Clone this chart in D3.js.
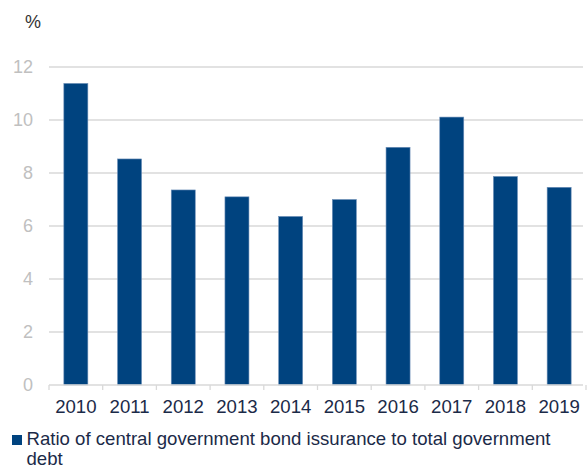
<!DOCTYPE html>
<html lang="en">
    <head>
        <meta charset="UTF-8">
        <title>Bond issuance ratio</title>
        <style>
            body { margin: 0; background: #fff; }
            svg { font-family: "Liberation Sans", Arial, sans-serif; }
            .bar { fill: #00437f; stroke: #6d8fb8; stroke-width: 0.6; }
            .grid line { stroke: #d9d9d9; stroke-width: 1.3; }
            .ylab { fill: #c0c0c0; font-size: 18px; text-anchor: end; }
            .xlab { fill: #1b2a48; font-size: 18.6px; text-anchor: middle; }
            .legend { fill: #1b2a48; font-size: 18.6px; }
        </style>
    </head>
    <body>
        <script src="https://d3js.org/d3.v7.min.js"></script>
        <script>
            const years = ["2010", "2011", "2012", "2013", "2014", "2015", "2016", "2017", "2018", "2019"];
            const ratio = [11.38, 8.53, 7.36, 7.1, 6.36, 7.0, 8.97, 10.11, 7.87, 7.46];
            const yTicks = [0, 2, 4, 6, 8, 10, 12];
            const seriesName = ["Ratio of central government bond issurance to total government", "debt"];

            const width = 587, height = 469;
            const plotLeft = 49, plotRight = 586, plotTop = 67, plotBottom = 385;

            const svg = d3.select("body").append("svg")
            .attr("width", width)
            .attr("height", height);

            const x = d3.scaleBand()
            .domain(years)
            .range([plotLeft, plotRight])
            .paddingInner(0.553)
            .paddingOuter(0.2765);

            const y = d3.scaleLinear()
            .domain([0, 12])
            .range([plotBottom, plotTop]);

            // gridlines
            svg.append("g")
            .attr("class", "grid")
            .selectAll("line")
            .data(yTicks.filter(d => d > 0))
            .enter()
            .append("line")
            .attr("x1", plotLeft)
            .attr("x2", plotRight - 3)
            .attr("y1", d => y(d))
            .attr("y2", d => y(d));

            svg.selectAll(".ylab")
            .data(yTicks)
            .enter()
            .append("text")
            .attr("class", "ylab")
            .attr("x", 33)
            .attr("y", d => y(d))
            .attr("dy", "0.36em")
            .text(d => d);

            svg.append("text")
            .attr("x", 25)
            .attr("y", 28)
            .attr("font-size", 18)
            .attr("fill", "#333")
            .text("%");

            svg.selectAll(".bar")
            .data(ratio)
            .enter()
            .append("rect")
            .attr("class", "bar")
            .attr("x", (d, i) => x(years[i]))
            .attr("y", d => y(d))
            .attr("width", x.bandwidth())
            .attr("height", d => y(0) - y(d));

            // x axis line + ticks at category boundaries
            const step = x.step();
            const xAxis = svg.append("g").attr("stroke", "#d9d9d9").attr("stroke-width", 1.3);
            xAxis.append("line")
            .attr("x1", plotLeft).attr("x2", plotRight - 3)
            .attr("y1", plotBottom).attr("y2", plotBottom);
            xAxis.selectAll(".tick")
            .data(d3.range(years.length + 1))
            .enter()
            .append("line")
            .attr("x1", i => plotLeft + i * step)
            .attr("x2", i => plotLeft + i * step)
            .attr("y1", plotBottom)
            .attr("y2", plotBottom + 5);

            svg.selectAll(".xlab")
            .data(years)
            .enter()
            .append("text")
            .attr("class", "xlab")
            .attr("x", d => x(d) + x.bandwidth() / 2)
            .attr("y", 413)
            .text(d => d);

            // legend
            svg.append("rect")
            .attr("x", 12)
            .attr("y", 435)
            .attr("width", 10)
            .attr("height", 10)
            .attr("fill", "#00437f");

            svg.append("text")
            .attr("class", "legend")
            .selectAll("tspan")
            .data(seriesName)
            .enter()
            .append("tspan")
            .attr("x", 26.5)
            .attr("y", (d, i) => 445 + i * 20)
            .text(d => d);
        </script>
    </body>
</html>
